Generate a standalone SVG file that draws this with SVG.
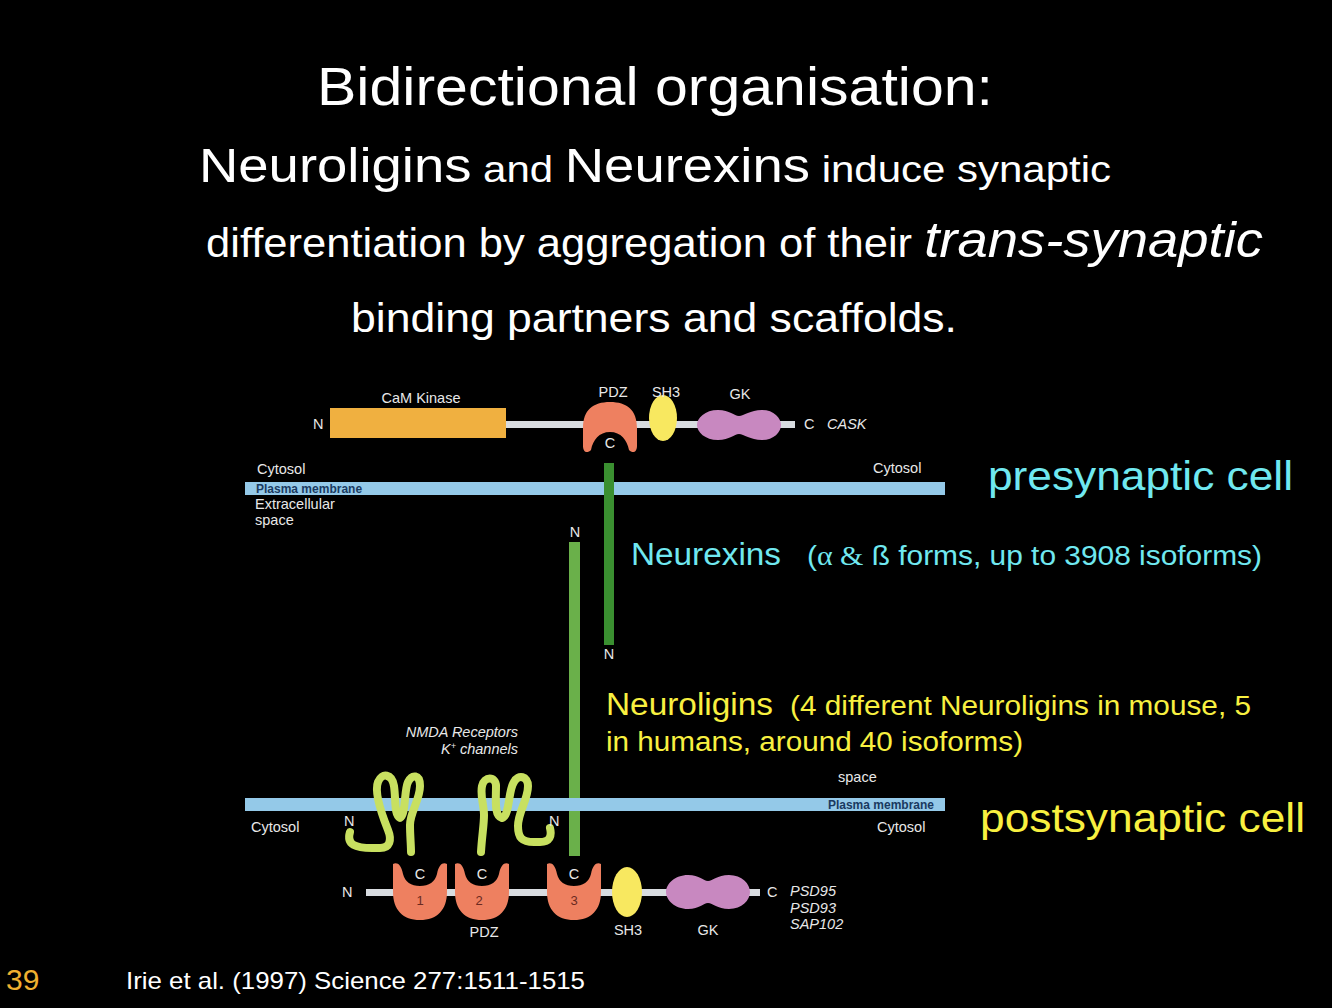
<svg xmlns="http://www.w3.org/2000/svg" width="1332" height="1008" viewBox="0 0 1332 1008">
<style>
text{font-family:"Liberation Sans",Arial,sans-serif}
.w{fill:#fff}
.s{fill:#e8e8e8;font-size:14.5px}
.si{fill:#e8e8e8;font-size:14.5px;font-style:italic}
.pdz{fill:#ee8060}
.sh3{fill:#f8e860}
.gk{fill:#c888c0}
.bb{fill:#d8dce0}
.mem{fill:#94c9e8}
.ch{fill:none;stroke:#c8e060;stroke-width:8;stroke-linecap:round;stroke-linejoin:round}
</style>
<defs>
<path id="pdzU" d="M0,26 C0,8 10,0 27,0 C44,0 54,8 54,26 L54,44 C54,50 50,52 46,48 C44,38 38,30 27,30 C16,30 10,38 8,48 C4,52 0,50 0,44 Z"/>
<path id="pdzD" d="M0,0 C4,-2 8,0 10,10 C12,18 18,22 27,22 C36,22 42,18 44,10 C46,0 50,-2 54,0 L54,28 C54,46 44,56 27,56 C10,56 0,46 0,28 Z"/>
</defs>
<rect width="1332" height="1008" fill="#000"/>
<g id="title">
<text x="317" y="105" class="w" font-size="54" textLength="676" lengthAdjust="spacingAndGlyphs">Bidirectional organisation:</text>
<text x="199" y="182" class="w" font-size="37" textLength="912" lengthAdjust="spacingAndGlyphs"><tspan font-size="48">Neuroligins</tspan> and <tspan font-size="48">Neurexins</tspan> induce synaptic</text>
<text x="206" y="257" class="w" font-size="40" textLength="1057" lengthAdjust="spacingAndGlyphs">differentiation by aggregation of their <tspan font-style="italic" font-size="50">trans-synaptic</tspan></text>
<text x="351" y="332" class="w" font-size="40" textLength="606" lengthAdjust="spacingAndGlyphs">binding partners and scaffolds.</text>
</g>
<g id="cask">
<rect class="bb" x="330" y="421" width="465" height="7"/>
<text x="313" y="429" class="s">N</text>
<rect x="330" y="408" width="176" height="30" fill="#f0b040"/>
<text x="421" y="403" class="s" text-anchor="middle">CaM Kinase</text>
<use href="#pdzU" x="583" y="402" class="pdz"/>
<text x="610" y="448" class="s" text-anchor="middle">C</text>
<text x="613" y="397" class="s" text-anchor="middle">PDZ</text>
<ellipse class="sh3" cx="663" cy="418" rx="14" ry="23"/>
<text x="666" y="397" class="s" text-anchor="middle">SH3</text>
<path class="gk" d="M718,410 C730,410 734,416 739,416 C744,416 750,410 762,410 C774,410 781,418 781,425 C781,432 774,440 762,440 C750,440 744,434 739,434 C734,434 730,440 718,440 C705,440 697,432 697,425 C697,418 705,410 718,410 Z"/>
<text x="740" y="399" class="s" text-anchor="middle">GK</text>
<text x="804" y="429" class="s">C</text>
<text x="827" y="429" class="si">CASK</text>
</g>
<g id="pre-membrane">
<text x="257" y="474" class="s">Cytosol</text>
<text x="873" y="473" class="s">Cytosol</text>
<rect class="mem" x="245" y="482" width="700" height="13"/>
<text x="256" y="493" font-size="12" font-weight="bold" fill="#1a3a60">Plasma membrane</text>
<text x="255" y="509" class="s">Extracellular</text>
<text x="255" y="525" class="s">space</text>
<text x="988" y="490" font-size="40" fill="#70e8f0" textLength="305" lengthAdjust="spacingAndGlyphs">presynaptic cell</text>
</g>
<g id="neurexin">
<rect x="604" y="463" width="10" height="182" fill="#3a8f30"/>
<text x="609" y="659" class="s" text-anchor="middle">N</text>
<text x="631" y="565" font-size="31" fill="#70e8f0" textLength="150" lengthAdjust="spacingAndGlyphs">Neurexins</text>
<text x="807" y="565" font-size="27" fill="#70e8f0" textLength="455" lengthAdjust="spacingAndGlyphs">(<tspan font-family="Liberation Serif,serif">α &amp;</tspan> ß forms, up to 3908 isoforms)</text>
</g>
<g id="neuroligin">
<rect x="569" y="542" width="11" height="314" fill="#6ab04a"/>
<text x="575" y="537" class="s" text-anchor="middle">N</text>
<text x="606" y="715" font-size="31" fill="#f8f040" textLength="167" lengthAdjust="spacingAndGlyphs">Neuroligins</text>
<text x="790" y="715" font-size="27" fill="#f8f040" textLength="461" lengthAdjust="spacingAndGlyphs">(4 different Neuroligins in mouse, 5</text>
<text x="606" y="751" font-size="27" fill="#f8f040" textLength="417" lengthAdjust="spacingAndGlyphs">in humans, around 40 isoforms)</text>
</g>
<g id="post-membrane">
<text x="838" y="782" class="s">space</text>
<rect class="mem" x="245" y="798" width="700" height="13"/>
<text x="934" y="809" font-size="12" font-weight="bold" fill="#1a3a60" text-anchor="end">Plasma membrane</text>
<text x="251" y="832" class="s">Cytosol</text>
<text x="877" y="832" class="s">Cytosol</text>
<text x="980" y="832" font-size="40" fill="#f8f040" textLength="325" lengthAdjust="spacingAndGlyphs">postsynaptic cell</text>
</g>
<g id="channels">
<text x="518" y="737" class="si" text-anchor="end">NMDA Receptors</text>
<text x="518" y="754" class="si" text-anchor="end">K<tspan font-size="9" dy="-5">+</tspan><tspan dy="5"> channels</tspan></text>
<path class="ch" d="M350,832 C346,845 356,848 372,848 L380,848 C390,848 392,840 388,830 C382,815 374,792 378,782 C382,772 392,774 394,786 C396,800 394,815 400,818 C406,815 404,790 408,782 C412,774 420,774 420,786 C420,800 410,812 410,825 C410,835 411,845 411,852"/>
<path class="ch" d="M481,852 C482,835 484,825 484,815 C484,805 480,796 482,786 C484,776 496,776 496,786 C496,800 494,816 502,818 C510,816 508,790 514,782 C518,774 528,776 528,786 C528,800 518,812 518,826 C518,838 522,842 534,842 L540,842 C550,842 552,836 550,828"/>
<text x="344" y="826" class="s">N</text>
<text x="549" y="826" class="s">N</text>
</g>
<g id="psd95">
<rect class="bb" x="366" y="889" width="394" height="7"/>
<text x="342" y="897" class="s">N</text>
<use href="#pdzD" x="393" y="864" class="pdz"/>
<use href="#pdzD" x="455" y="864" class="pdz"/>
<use href="#pdzD" x="547" y="864" class="pdz"/>
<text x="420" y="879" class="s" text-anchor="middle">C</text>
<text x="482" y="879" class="s" text-anchor="middle">C</text>
<text x="574" y="879" class="s" text-anchor="middle">C</text>
<text x="420" y="905" font-size="13" fill="#6a2a20" text-anchor="middle">1</text>
<text x="479" y="905" font-size="13" fill="#6a2a20" text-anchor="middle">2</text>
<text x="574" y="905" font-size="13" fill="#6a2a20" text-anchor="middle">3</text>
<ellipse class="sh3" cx="627" cy="892" rx="15" ry="25"/>
<path class="gk" d="M688,875 C700,875 703,881 708,881 C713,881 717,875 729,875 C742,875 750,884 750,892 C750,900 742,909 729,909 C717,909 713,903 708,903 C703,903 700,909 688,909 C675,909 666,900 666,892 C666,884 675,875 688,875 Z"/>
<text x="767" y="897" class="s">C</text>
<text x="790" y="896" class="si">PSD95</text>
<text x="790" y="913" class="si">PSD93</text>
<text x="790" y="929" class="si">SAP102</text>
<text x="484" y="937" class="s" text-anchor="middle">PDZ</text>
<text x="628" y="935" class="s" text-anchor="middle">SH3</text>
<text x="708" y="935" class="s" text-anchor="middle">GK</text>
</g>
<g id="footer">
<text x="6" y="990" font-family="Liberation Serif,serif" font-size="30" fill="#f0b030">39</text>
<text x="126" y="989" class="w" font-size="24" textLength="459" lengthAdjust="spacingAndGlyphs">Irie et al. (1997) Science 277:1511-1515</text>
</g>
</svg>
